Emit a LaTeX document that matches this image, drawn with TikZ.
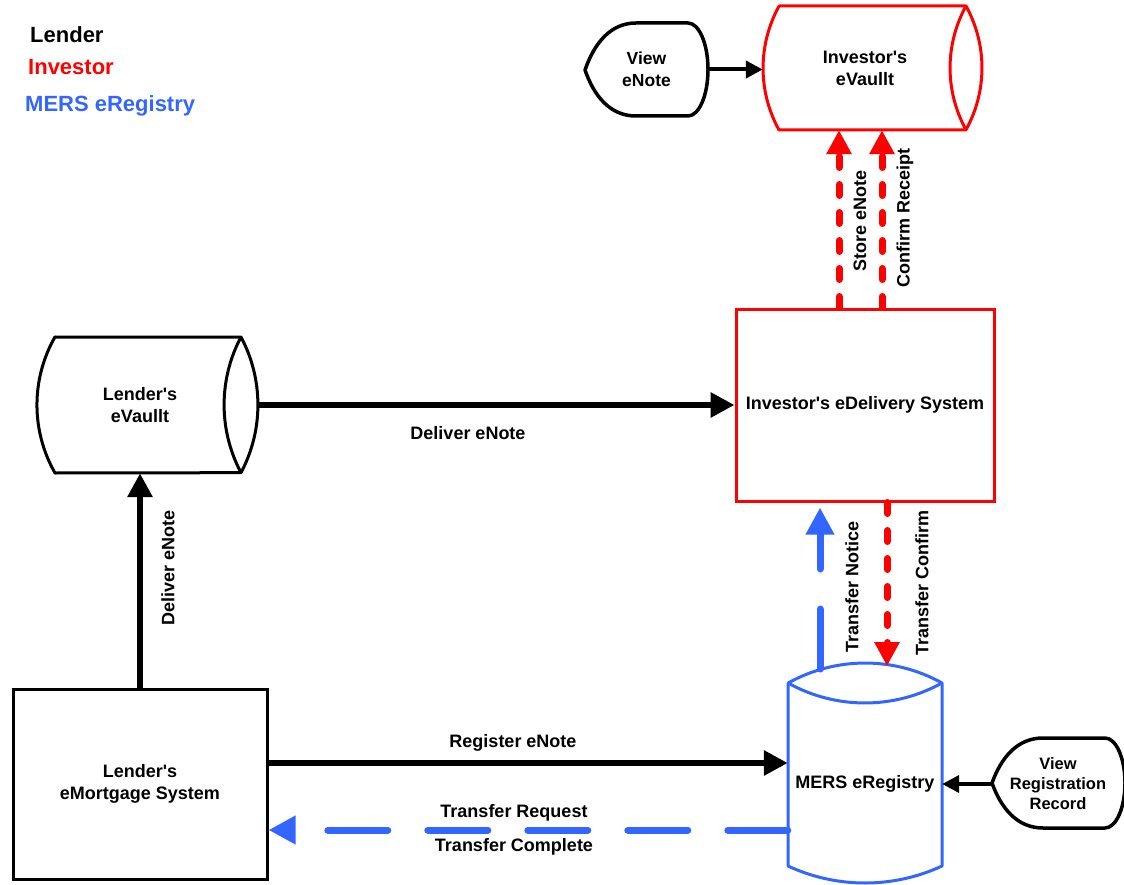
\documentclass[tikz,border=0pt]{standalone}
\usepackage{fontspec}
\setmainfont{Liberation Sans}[Ligatures=TeXOff]
\usetikzlibrary{arrows.meta}
\definecolor{mersblue}{RGB}{51,102,255}
\tikzset{
  lbl/.style={font=\bfseries\fontsize{18}{22}\selectfont, inner sep=0pt},
  boxtxt/.style={lbl, align=center},
  legend/.style={font=\bfseries\fontsize{22}{26}\selectfont, anchor=base west, inner sep=0pt},
  outline/.style={line width=3pt, fill=white, line join=round},
  solidarr/.style={line width=6pt, -{Triangle[length=24pt,width=24pt]}},
  viewarr/.style={line width=4pt, -{Triangle[length=17pt,width=17pt]}},
  reddash/.style={red, line width=7pt, line cap=round, dash pattern=on 11pt off 17pt, -{Triangle[length=24pt,width=24pt]}},
  bluedash/.style={mersblue, line width=7pt, line cap=round, dash pattern=on 60pt off 40pt, -{Triangle[length=27pt,width=27pt]}},
}
\begin{document}
\begin{tikzpicture}[x=1pt,y=1pt]
\useasboundingbox (0,0) rectangle (1124,-885);
% legend
\node[legend] (legl) at (30,-43) {Lender};
\node[legend,red] (legi) at (28,-75) {Investor};
\node[legend,mersblue] (legm) at (25,-112) {MERS eRegistry};
% cylinders
\draw[outline] (55,-337) -- (241,-337) arc[start angle=28,end angle=-28,radius=144.5pt] -- (55,-473) arc[start angle=209.7,end angle=150.3,radius=137.4pt] -- cycle;
\draw[line width=3pt] (241,-337) arc[start angle=152,end angle=208,radius=144.5pt];
\draw[outline,draw=red] (779,-6) -- (966,-6) arc[start angle=28.9,end angle=-28.9,radius=128.1pt] -- (779,-130) arc[start angle=208.9,end angle=151.1,radius=128.1pt] -- cycle;
\draw[red,line width=3pt] (966,-6) arc[start angle=151.1,end angle=208.9,radius=128.1pt];
\draw[outline,draw=mersblue] (788,-683) -- (788,-866) arc[start angle=245.1,end angle=294.9,radius=182.9pt] -- (942,-683) arc[start angle=60.9,end angle=119.1,radius=158.2pt] -- cycle;
\draw[mersblue,line width=3pt] (788,-683) arc[start angle=240.9,end angle=299.1,radius=158.2pt];
% display shapes
\draw[outline,line width=3.5pt] (585,-70) .. controls (594,-44) and (610,-23) .. (636,-23) -- (688,-23) arc[start angle=90,end angle=-90,x radius=20pt,y radius=46.5pt] -- (636,-116) .. controls (610,-116) and (594,-96) .. (585,-70) -- cycle;
\draw[outline,line width=3.5pt] (992,-783) .. controls (1001,-758) and (1017,-738) .. (1043,-738) -- (1105,-738) arc[start angle=90,end angle=-90,x radius=20pt,y radius=45pt] -- (1043,-828) .. controls (1017,-828) and (1001,-808) .. (992,-783) -- cycle;
% boxes
\node[boxtxt, minimum width=206pt, minimum height=136pt] (lvault) at (140,-405) {Lender's\\eVaullt};
\node[boxtxt, minimum width=204pt, minimum height=124pt] (ivault) at (865,-68) {Investor's\\eVaullt};
\node[boxtxt, draw=red, line width=3pt, minimum width=258pt, minimum height=192pt] (edel) at (865,-405) {Investor's eDelivery System};
\node[boxtxt, draw, line width=3pt, minimum width=254pt, minimum height=190pt] (emort) at (140,-784) {Lender's\\eMortgage System};
\node[boxtxt, minimum width=154pt] (mers) at (865,-784) {MERS eRegistry};
\coordinate (merstop) at (865,-664);
\node[boxtxt, font=\bfseries\fontsize{17.5}{22}\selectfont, minimum width=123pt, minimum height=93pt] (venote) at (646.5,-69.5) {View\\eNote};
\node[boxtxt, font=\bfseries\fontsize{16.5}{20}\selectfont, minimum width=132pt, minimum height=90pt] (vrec) at (1058,-784) {View\\Registration\\Record};
% connectors
\draw[solidarr] (emort.north) -- (emort.north |- lvault.south);
\draw[solidarr] ([xshift=15pt]lvault.east) -- (edel.west);
\draw[solidarr] ([yshift=21pt]emort.east) -- ([yshift=21pt]mers.west);
\draw[bluedash] ([yshift=-46pt]mers.west) -- ([yshift=-46pt]emort.east);
\draw[reddash] ([xshift=-26pt]edel.north) -- ([xshift=-26pt]edel.north |- ivault.south);
\draw[reddash] ([xshift=17pt]edel.north) -- ([xshift=17pt]edel.north |- ivault.south);
\draw[bluedash] ([xshift=-45pt,yshift=-5pt]merstop) -- ([xshift=-45pt,yshift=-5pt]merstop |- edel.south);
\draw[reddash] ([xshift=22pt]edel.south) -- ([xshift=22pt,yshift=-2pt]edel.south |- merstop);
\draw[viewarr] (venote.east) -- (venote.east -| ivault.west);
\draw[viewarr] (vrec.west) -- (mers.east);
% labels
\node[lbl,rotate=90] (dlvup) at (168,-568) {Deliver eNote};
\node[lbl] (dlvright) at (468,-433) {Deliver eNote};
\node[lbl] (reg) at (513,-743) {Register eNote};
\node[lbl] (treq) at (514,-813) {Transfer Request};
\node[lbl] (tcom) at (514,-847) {Transfer Complete};
\node[lbl,rotate=90] (store) at (860,-221) {Store eNote};
\node[lbl,rotate=90] (conf) at (905,-218) {Confirm Receipt};
\node[lbl,rotate=90] (tnot) at (852,-587) {Transfer Notice};
\node[lbl,rotate=90] (tconf) at (922,-583) {Transfer Confirm};
\end{tikzpicture}
\end{document}
